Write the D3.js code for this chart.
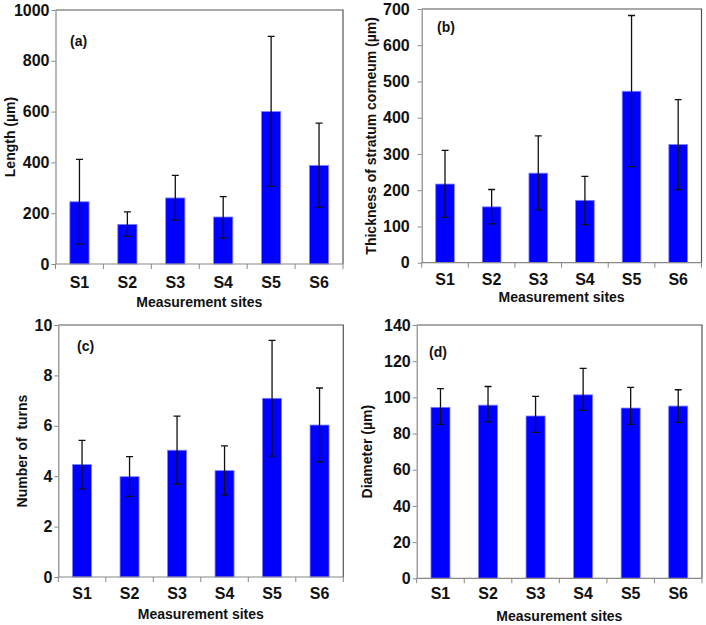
<!DOCTYPE html>
<html>
<head>
<meta charset="utf-8">
<script src="https://cdn.jsdelivr.net/npm/d3@7"></script>
<style>
    body { margin: 0; background: #fff; }
    svg { display: block; font-family: "Liberation Sans", Arial, sans-serif; font-weight: bold; }
</style>
</head>
<body>
<div id="chart"></div>
<script>
const sites = ["S1", "S2", "S3", "S4", "S5", "S6"]

// (a) length
const lengthMean = [245, 156, 260, 185, 600, 388]
const lengthErrPlus = [167, 49, 89, 80, 296, 167]
const lengthErrMinus = [166, 47, 88, 83, 294, 165]
const lengthTicks = [0, 200, 400, 600, 800, 1000]

// (b) thickness of stratum corneum
const thickMean = [217, 154, 247, 172, 473, 326]
const thickErrPlus = [93, 48, 103, 66, 209, 124]
const thickErrMinus = [92, 47, 101, 67, 208, 124]
const thickTicks = [0, 100, 200, 300, 400, 500, 600, 700]

// (c) number of turns
const turnsMean = [4.46, 3.98, 5.03, 4.22, 7.09, 6.03]
const turnsErrPlus = [0.96, 0.8, 1.35, 0.98, 2.3, 1.47]
const turnsErrMinus = [0.97, 0.78, 1.35, 0.97, 2.29, 1.46]
const turnsTicks = [0, 2, 4, 6, 8, 10]

// (d) diameter
const diamMean = [94.5, 95.7, 89.7, 101.4, 94.1, 95.2]
const diamErrPlus = [10.3, 10.3, 10.8, 14.6, 11.4, 9.0]
const diamErrMinus = [9.4, 9.2, 9.0, 8.6, 9.0, 9.0]
const diamTicks = [0, 20, 40, 60, 80, 100, 120, 140]

const barColor = "#0000ff"
const barEdge = "#7f7fff"
const textColor = "#111"

const svg = d3.select("#chart")
    .append("svg")
    .attr("width", 706)
    .attr("height", 625)

const panels = [
    { tag: "(a)", yTitle: "Length (µm)", mean: lengthMean, plus: lengthErrPlus, minus: lengthErrMinus, ticks: lengthTicks,
      box: { left: 55.5, right: 343, top: 10, bottom: 264 }, titleX: 10, labelGap: 5, xLabelY: 288, xTitleY: 307, tagPos: [70, 46] },
    { tag: "(b)", yTitle: "Thickness of stratum corneum (µm)", mean: thickMean, plus: thickErrPlus, minus: thickErrMinus, ticks: thickTicks,
      box: { left: 421.7, right: 701.5, top: 9, bottom: 262.7 }, titleX: 371, labelGap: 11, xLabelY: 285, xTitleY: 302, tagPos: [437, 32] },
    { tag: "(c)", yTitle: "Number of  turns", mean: turnsMean, plus: turnsErrPlus, minus: turnsErrMinus, ticks: turnsTicks,
      box: { left: 58.3, right: 343.3, top: 325, bottom: 577 }, titleX: 22, labelGap: 5, xLabelY: 598.5, xTitleY: 619, tagPos: [77, 351] },
    { tag: "(d)", yTitle: "Diameter (µm)", mean: diamMean, plus: diamErrPlus, minus: diamErrMinus, ticks: diamTicks,
      box: { left: 416.7, right: 702, top: 325, bottom: 578.3 }, titleX: 367.5, labelGap: 5, xLabelY: 599, xTitleY: 621, tagPos: [429, 357] }
]

const drawPanel = (p) => {
    const { left, right, top, bottom } = p.box
    const data = sites.map((s, i) => ({ site: s, mean: p.mean[i], hi: p.mean[i] + p.plus[i], lo: p.mean[i] - p.minus[i] }))

    const xScale = d3.scaleBand()
        .domain(sites)
        .range([left, right])
        .paddingInner(0.6)
        .paddingOuter(0.3)

    const yScale = d3.scaleLinear()
        .domain([0, d3.max(p.ticks)])
        .range([bottom, top])

    const g = svg.append("g")

    // frame top and right
    g.append("path")
        .attr("d", `M${left},${top}H${right}V${bottom}`)
        .attr("fill", "none")
        .attr("stroke", "#555")
        .attr("stroke-width", 1.2)

    // bars
    g.selectAll(".bar")
        .data(data)
        .enter()
        .append("rect")
        .attr("class", "bar")
        .attr("x", d => xScale(d.site))
        .attr("y", d => yScale(d.mean))
        .attr("width", xScale.bandwidth())
        .attr("height", d => yScale(0) - yScale(d.mean))
        .attr("fill", barColor)
        .attr("stroke", barEdge)
        .attr("stroke-width", 0.8)

    // error bars
    const cx = d => xScale(d.site) + xScale.bandwidth() / 2
    const capW = 3.5
    g.selectAll(".err")
        .data(data)
        .enter()
        .append("path")
        .attr("class", "err")
        .attr("d", d => `M${cx(d)},${yScale(d.lo)}V${yScale(d.hi)}` +
            `M${cx(d) - capW},${yScale(d.hi)}H${cx(d) + capW}` +
            `M${cx(d) - capW},${yScale(d.lo)}H${cx(d) + capW}`)
        .attr("fill", "none")
        .attr("stroke", "#111")
        .attr("stroke-width", 1.3)

    // y axis
    const leftAxis = d3.axisLeft(yScale)
        .tickValues(p.ticks)
        .tickFormat(d3.format("d"))
        .tickSize(4)
        .tickSizeOuter(0)
        .tickPadding(p.labelGap - 3)

    const yAxisGroup = g.append("g")
        .attr("transform", `translate(${left},0)`)
        .call(leftAxis)
        .attr("font-family", null)
        .attr("font-size", null)
    yAxisGroup.select(".domain").attr("stroke", "#888").attr("stroke-width", 1.2)
    yAxisGroup.selectAll(".tick line").attr("stroke", "#888")
    yAxisGroup.selectAll(".tick text")
        .attr("font-size", 16)
        .attr("font-weight", "bold")
        .attr("fill", textColor)

    // x axis: line plus ticks on category boundaries
    const step = xScale.step()
    const boundaries = sites.slice(1).map(s => xScale(s) - step * xScale.paddingInner() / 2)
    g.append("line")
        .attr("x1", left).attr("x2", right)
        .attr("y1", bottom).attr("y2", bottom)
        .attr("stroke", "#888")
        .attr("stroke-width", 1.2)
    g.selectAll(".xtick")
        .data([left, ...boundaries, right])
        .enter()
        .append("line")
        .attr("class", "xtick")
        .attr("x1", d => d).attr("x2", d => d)
        .attr("y1", bottom).attr("y2", bottom + 5)
        .attr("stroke", "#888")

    g.selectAll(".xlabel")
        .data(sites)
        .enter()
        .append("text")
        .attr("class", "xlabel")
        .attr("x", d => xScale(d) + xScale.bandwidth() / 2)
        .attr("y", p.xLabelY)
        .attr("text-anchor", "middle")
        .attr("font-size", 16)
        .attr("fill", textColor)
        .text(d => d)

    g.append("text")
        .attr("x", (left + right) / 2)
        .attr("y", p.xTitleY)
        .attr("text-anchor", "middle")
        .attr("font-size", 14)
        .attr("fill", textColor)
        .text("Measurement sites")

    g.append("text")
        .attr("transform", `translate(${p.titleX},${(top + bottom) / 2}) rotate(-90)`)
        .attr("text-anchor", "middle")
        .attr("dy", "0.35em")
        .attr("font-size", 14)
        .attr("fill", textColor)
        .style("white-space", "pre")
        .text(p.yTitle)

    g.append("text")
        .attr("x", p.tagPos[0])
        .attr("y", p.tagPos[1])
        .attr("font-size", 14)
        .attr("fill", textColor)
        .text(p.tag)
}

panels.forEach(drawPanel)
</script>
</body>
</html>
